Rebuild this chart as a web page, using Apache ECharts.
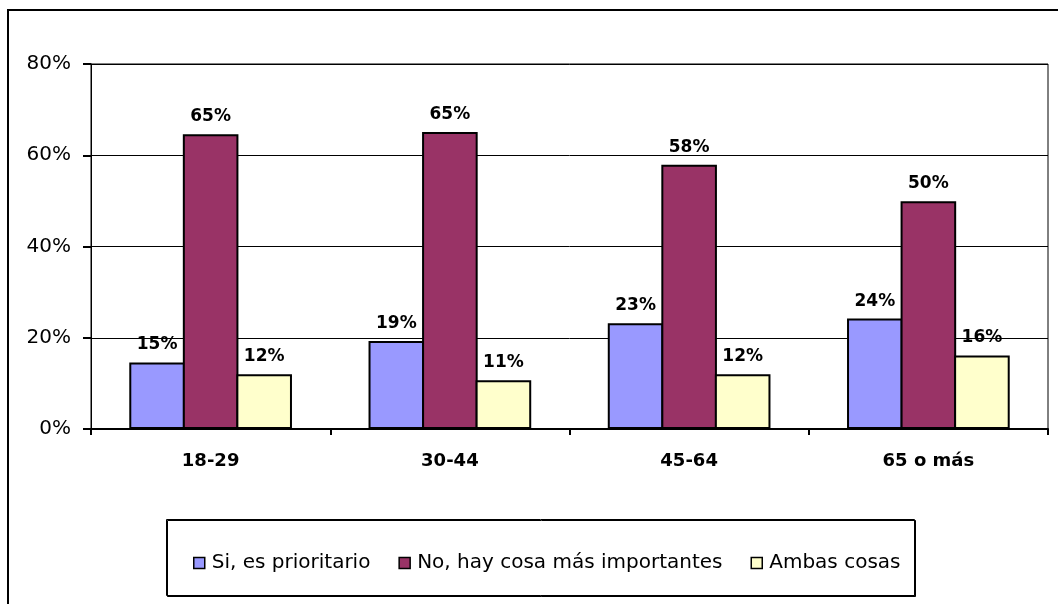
<!DOCTYPE html>
<html>
<head>
<meta charset="utf-8">
<script src="https://cdn.jsdelivr.net/npm/echarts@6/dist/echarts.min.js"></script>
<style>
html,body{margin:0;padding:0;background:#fff;}
#chart{width:1058px;height:604px;}
</style>
</head>
<body>
<div id="chart"></div>
<script>
var categories = ['18-29', '30-44', '45-64', '65 o más'];
var seriesNames = ['Si, es prioritario', 'No, hay cosa más importantes', 'Ambas cosas'];
var siValues = [14.6, 19.3, 23.2, 24.2];
var noValues = [64.6, 65.1, 57.9, 49.9];
var ambasValues = [12.0, 10.7, 12.0, 16.1];
var yTicks = [0, 20, 40, 60, 80];

var colors = ['#9999FF', '#993366', '#FFFFCC'];
var font = 'DejaVu Sans';

function makeSeries(name, data, color) {
  return {
    name: name,
    type: 'bar',
    data: data,
    barGap: '-3.7%',
    barCategoryGap: '32%',
    itemStyle: { color: color, borderColor: '#000', borderWidth: 2 },
    label: {
      show: true,
      position: 'top',
      distance: 9,
      formatter: function (p) { return Math.round(p.value) + '%'; },
      color: '#000',
      fontFamily: font,
      fontWeight: 'bold',
      fontSize: 17
    },
    emphasis: { disabled: true }
  };
}

var chart = echarts.init(document.getElementById('chart'), null, { renderer: 'canvas' });
chart.setOption({
  animation: false,
  backgroundColor: '#fff',
  graphic: [
    { type: 'rect', shape: { x: 8, y: 10, width: 1100, height: 700 },
      style: { fill: 'none', stroke: '#000', lineWidth: 2 }, z: -1 },
    { type: 'rect', shape: { x: 166.5, y: 519.5, width: 748, height: 76 },
      style: { fill: '#fff', stroke: '#000', lineWidth: 1,
               shadowColor: '#000', shadowOffsetX: 1, shadowOffsetY: 1, shadowBlur: 0 }, z: -1 }
  ],
  grid: {
    left: 91, right: 10, top: 64, bottom: 175,
    show: true, borderColor: '#000', borderWidth: 1, backgroundColor: 'transparent'
  },
  legend: {
    data: seriesNames,
    left: 188,
    top: 548,
    icon: 'rect',
    itemWidth: 11,
    itemHeight: 11,
    itemGap: 28,
    itemStyle: { borderColor: '#000', borderWidth: 1.5 },
    textStyle: { fontFamily: font, fontSize: 20, color: '#000', padding: [0, 0, 0, 2] },
    selectedMode: false
  },
  xAxis: {
    type: 'category',
    data: categories,
    axisLine: { lineStyle: { color: '#000', width: 2 } },
    axisTick: { show: true, length: 6, lineStyle: { color: '#000', width: 2 } },
    axisLabel: { color: '#000', fontFamily: font, fontWeight: 'bold', fontSize: 18, margin: 23 }
  },
  yAxis: {
    type: 'value',
    min: yTicks[0],
    max: yTicks[yTicks.length - 1],
    interval: yTicks[1] - yTicks[0],
    axisLine: { show: true, lineStyle: { color: '#000', width: 1 } },
    axisTick: { show: true, length: 8, lineStyle: { color: '#000', width: 2 } },
    splitLine: { show: true, lineStyle: { color: '#000', width: 1 } },
    axisLabel: { color: '#000', fontFamily: font, fontSize: 20, margin: 20, formatter: '{value}%' }
  },
  series: [
    makeSeries(seriesNames[0], siValues, colors[0]),
    makeSeries(seriesNames[1], noValues, colors[1]),
    makeSeries(seriesNames[2], ambasValues, colors[2])
  ]
});
</script>
</body>
</html>
